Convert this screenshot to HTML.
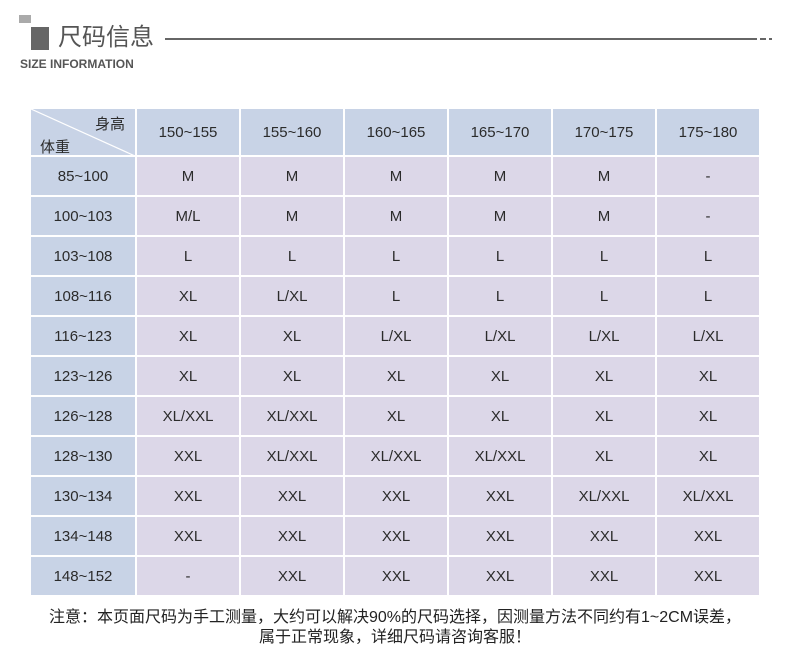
<!DOCTYPE html>
<html><head><meta charset="utf-8"><style>
body{margin:0;width:790px;height:672px;background:#fff;position:relative;overflow:hidden;font-family:"Liberation Sans","Noto Sans CJK SC",sans-serif;}
.a{position:absolute}
table{position:absolute;left:29px;top:107px;border-collapse:collapse;table-layout:fixed;width:732px}
td{border:2px solid #fff;text-align:center;font-size:15px;color:#2b2b2b;background:#dcd7e8;height:38px;padding:0}
td.h{background:#c8d3e6}
tr.hd td{height:46px}
</style></head><body>
<div class="a" style="left:19px;top:15px;width:12px;height:8px;background:#aaa"></div>
<div class="a" style="left:31px;top:27px;width:18px;height:23px;background:#666"></div>
<div class="a" style="left:58px;top:23px;font-size:24px;color:#555;line-height:30px">尺码信息</div>
<div class="a" style="left:165px;top:38px;width:592px;height:2px;background:#666"></div>
<div class="a" style="left:760px;top:38px;width:6px;height:2px;background:#666"></div>
<div class="a" style="left:769px;top:38px;width:3px;height:2px;background:#666"></div>
<div class="a" style="left:20px;top:57px;font-size:12px;font-weight:bold;color:#555">SIZE INFORMATION</div>
<table>
<colgroup><col style="width:106px"><col><col><col><col><col><col></colgroup>
<tr class="hd"><td class="h" style="position:relative;text-align:left">
<svg class="a" style="left:0;top:0" width="104" height="47"><line x1="0" y1="0" x2="104" y2="47" stroke="#fff" stroke-width="1.2"/></svg>
<span class="a" style="right:10px;top:4px">身高</span><span class="a" style="left:9px;top:27px">体重</span></td>
<td class="h">150~155</td><td class="h">155~160</td><td class="h">160~165</td><td class="h">165~170</td><td class="h">170~175</td><td class="h">175~180</td></tr>
<tr><td class="h">85~100</td><td>M</td><td>M</td><td>M</td><td>M</td><td>M</td><td>-</td></tr>
<tr><td class="h">100~103</td><td>M/L</td><td>M</td><td>M</td><td>M</td><td>M</td><td>-</td></tr>
<tr><td class="h">103~108</td><td>L</td><td>L</td><td>L</td><td>L</td><td>L</td><td>L</td></tr>
<tr><td class="h">108~116</td><td>XL</td><td>L/XL</td><td>L</td><td>L</td><td>L</td><td>L</td></tr>
<tr><td class="h">116~123</td><td>XL</td><td>XL</td><td>L/XL</td><td>L/XL</td><td>L/XL</td><td>L/XL</td></tr>
<tr><td class="h">123~126</td><td>XL</td><td>XL</td><td>XL</td><td>XL</td><td>XL</td><td>XL</td></tr>
<tr><td class="h">126~128</td><td>XL/XXL</td><td>XL/XXL</td><td>XL</td><td>XL</td><td>XL</td><td>XL</td></tr>
<tr><td class="h">128~130</td><td>XXL</td><td>XL/XXL</td><td>XL/XXL</td><td>XL/XXL</td><td>XL</td><td>XL</td></tr>
<tr><td class="h">130~134</td><td>XXL</td><td>XXL</td><td>XXL</td><td>XXL</td><td>XL/XXL</td><td>XL/XXL</td></tr>
<tr><td class="h">134~148</td><td>XXL</td><td>XXL</td><td>XXL</td><td>XXL</td><td>XXL</td><td>XXL</td></tr>
<tr><td class="h">148~152</td><td>-</td><td>XXL</td><td>XXL</td><td>XXL</td><td>XXL</td><td>XXL</td></tr>
</table>
<div class="a" style="left:0;width:790px;top:608px;text-align:center;font-size:16px;color:#222;line-height:20px">注意：本页面尺码为手工测量，大约可以解决90%的尺码选择，因测量方法不同约有1~2CM误差，<br>属于正常现象，详细尺码请咨询客服！</div>
</body></html>
